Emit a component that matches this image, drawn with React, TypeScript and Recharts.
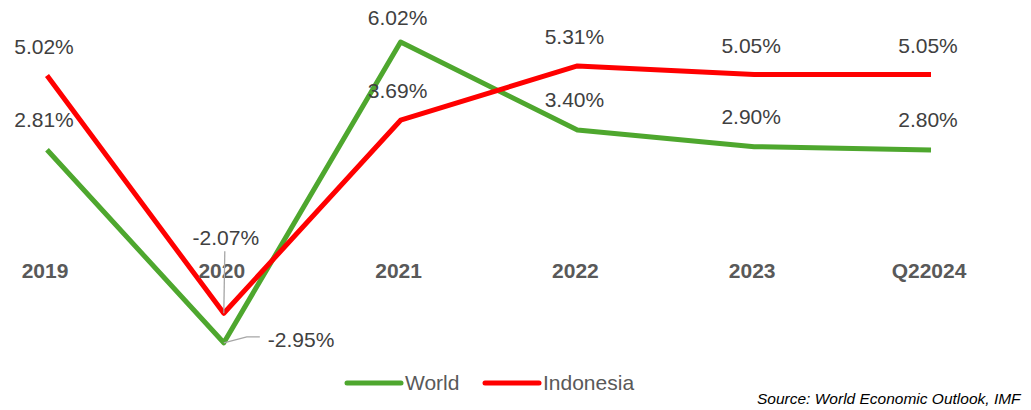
import { LineChart, Line, XAxis, YAxis, Legend, LabelList } from "recharts";

const years = ["2019", "2020", "2021", "2022", "2023", "Q22024"];
const world = [2.81, -2.95, 6.02, 3.4, 2.9, 2.8];
const indonesia = [5.02, -2.07, 3.69, 5.31, 5.05, 5.05];

const GREEN = "#4ea72e";
const RED = "#ff0000";
const FONT = "Arial, 'Liberation Sans', sans-serif";

const data = years.map((year, i) => ({ year, world: world[i], indonesia: indonesia[i], base: 0 }));

const fmt = (v: number) => `${v.toFixed(2)}%`;

// data labels above points; the 2020 ones get leader lines like the original
const WorldLabel = (p: any) => {
  const { x, y, value, index } = p;
  if (index === 1) {
    return (
      <g>
        <polyline points={`${x},${y} ${x + 23},${y - 6} ${x + 36},${y - 6}`} fill="none" stroke="#a6a6a6" strokeWidth={1.3} />
        <text x={x + 44} y={y + 4} fontSize={21} fill="#404040" fontFamily={FONT}>
          {fmt(value)}
        </text>
      </g>
    );
  }
  const dy = index === 2 ? 17 : 23;
  return (
    <text x={x - 3} y={y - dy} textAnchor="middle" fontSize={21} fill="#404040" fontFamily={FONT}>
      {fmt(value)}
    </text>
  );
};

const IndoLabel = (p: any) => {
  const { x, y, value, index } = p;
  if (index === 1) {
    return (
      <g>
        <line x1={x + 1} y1={y - 62} x2={x} y2={y} stroke="#a6a6a6" strokeWidth={1.3} />
        <text x={x + 2} y={y - 68} textAnchor="middle" fontSize={21} fill="#404040" fontFamily={FONT}>
          {fmt(value)}
        </text>
      </g>
    );
  }
  return (
    <text x={x - 3} y={y - 22} textAnchor="middle" fontSize={21} fill="#404040" fontFamily={FONT}>
      {fmt(value)}
    </text>
  );
};

const YearLabel = (p: any) => {
  const { x, y, value } = p;
  return (
    <text x={x - 2} y={y + 34} textAnchor="middle" fontSize={21} fontWeight="bold" fill="#595959" fontFamily={FONT}>
      {value}
    </text>
  );
};

const LegendContent = () => (
  <svg width={300} height={24}>
    <line x1={4} y1={12} x2={58} y2={12} stroke={GREEN} strokeWidth={5} strokeLinecap="round" />
    <text x={62} y={19} fontSize={21} fill="#595959" fontFamily={FONT}>World</text>
    <line x1={142} y1={12} x2={196} y2={12} stroke={RED} strokeWidth={5} strokeLinecap="round" />
    <text x={200} y={19} fontSize={21} fill="#595959" fontFamily={FONT}>Indonesia</text>
  </svg>
);

export default function App() {
  return (
    <div style={{ position: "relative", width: 1015, height: 410, marginTop: -8 }}>
      <LineChart width={1015} height={410} data={data} margin={{ top: 26, right: 0, bottom: 32, left: 0 }}>
        <XAxis dataKey="year" hide scale="point" padding={{ left: 39, right: 92 }} />
        <YAxis hide domain={[-4, 6.5]} />
        <Legend
          verticalAlign="middle"
          align="center"
          content={<LegendContent />}
          wrapperStyle={{ top: 371, left: 335, width: 300 }}
        />
        <Line dataKey="base" stroke="none" dot={false} legendType="none" isAnimationActive={false}>
          <LabelList dataKey="year" content={<YearLabel />} />
        </Line>
        <Line dataKey="world" stroke={GREEN} strokeWidth={5} dot={false} strokeLinejoin="round" isAnimationActive={false}>
          <LabelList dataKey="world" content={<WorldLabel />} />
        </Line>
        <Line dataKey="indonesia" stroke={RED} strokeWidth={5} dot={false} strokeLinejoin="round" isAnimationActive={false}>
          <LabelList dataKey="indonesia" content={<IndoLabel />} />
        </Line>
      </LineChart>
      <div
        style={{
          position: "absolute",
          left: 749,
          top: 390,
          fontSize: 15.5,
          fontStyle: "italic",
          fontFamily: FONT,
          color: "#000",
          whiteSpace: "nowrap",
        }}
      >
        Source: World Economic Outlook, IMF
      </div>
    </div>
  );
}
